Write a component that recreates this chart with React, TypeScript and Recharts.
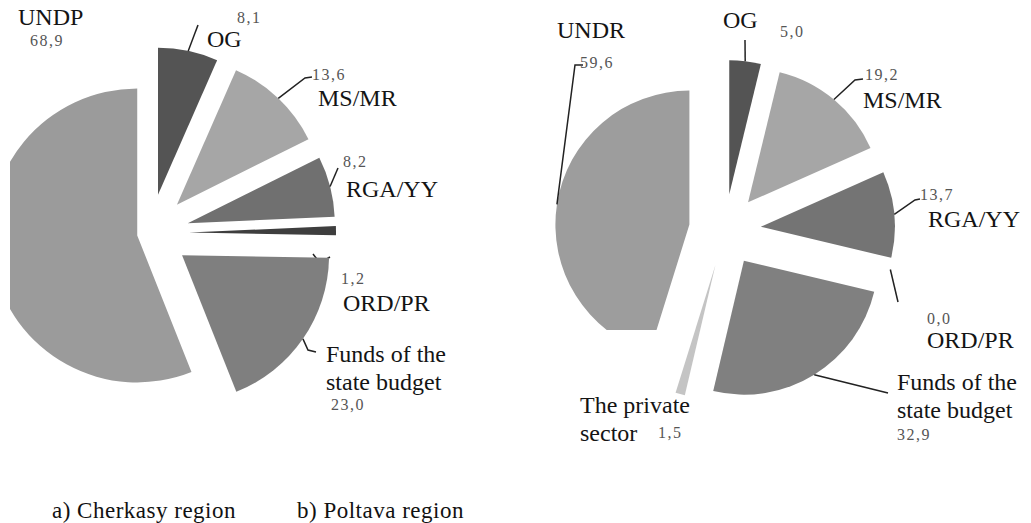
import { PieChart, Pie, Sector } from "recharts";

// a) Cherkasy region, clockwise from 12 o'clock
const CHERKASY_NAMES = ["OG", "MS/MR", "RGA/YY", "ORD/PR", "Funds of the state budget", "UNDP"];
const CHERKASY_VALUES = [8.1, 13.6, 8.2, 1.2, 23.0, 68.9];

// b) Poltava region, clockwise from 12 o'clock
const POLTAVA_NAMES = ["OG", "MS/MR", "RGA/YY", "ORD/PR", "Funds of the state budget", "The private sector", "UNDR"];
const POLTAVA_VALUES = [5.0, 19.2, 13.7, 0.0, 32.9, 1.5, 59.6];

const CAPTIONS = ["a) Cherkasy region", "b) Poltava region"];

const CHERKASY_COLORS = ["#545454", "#a6a6a6", "#707070", "#3e3e3e", "#7f7f7f", "#9b9b9b"];
const POLTAVA_COLORS = ["#545454", "#a6a6a6", "#747474", "#444444", "#808080", "#c4c4c4", "#9d9d9d"];

// how far each slice is pulled out of the pie
const CHERKASY_EXPLODE = [39, 39, 39, 39, 39, 13];
const POLTAVA_EXPLODE = [36, 36, 36, 36, 36, 36, 36];

const X0 = 10; // chart's left edge on the page
const RAD = Math.PI / 180;
const SERIF = '"Liberation Serif", "DejaVu Serif", "Noto Serif", "Times New Roman", Times, serif';

type Spot = {
	lines: string[];
	x: number;
	y: number;
	value: [number, number];
	leader?: [number, number][];
	fromArc?: boolean;
};

// label placement, page coordinates
const CHERKASY_SPOTS: Spot[] = [
	{ lines: ["OG"], x: 207, y: 47, value: [237, 23], leader: [[198, 25]] },
	{ lines: ["MS/MR"], x: 318, y: 106, value: [312, 80], leader: [[305, 78], [312, 77]] },
	{ lines: ["RGA/YY"], x: 346, y: 197, value: [343, 167], leader: [[338, 168]] },
	{ lines: ["ORD/PR"], x: 343, y: 311, value: [341, 284], leader: [[313, 254], [320, 263], [330, 257]], fromArc: false },
	{ lines: ["Funds of the", "state budget"], x: 326, y: 362, value: [331, 410], leader: [[308, 350], [316, 352]] },
	{ lines: ["UNDP"], x: 18, y: 25, value: [30, 46] },
];

const POLTAVA_SPOTS: Spot[] = [
	{ lines: ["OG"], x: 723, y: 28, value: [780, 37], leader: [[745, 40]] },
	{ lines: ["MS/MR"], x: 863, y: 108, value: [865, 80], leader: [[855, 80], [863, 79]] },
	{ lines: ["RGA/YY"], x: 928, y: 227, value: [920, 200], leader: [[915, 200], [920, 199]] },
	{ lines: ["ORD/PR"], x: 927, y: 348, value: [927, 324], leader: [[898, 302]] },
	{ lines: ["Funds of the", "state budget"], x: 897, y: 390, value: [897, 440], leader: [[888, 393]] },
	{ lines: ["The private", "sector"], x: 580, y: 413, value: [658, 438] },
	{ lines: ["UNDR"], x: 557, y: 38, value: [580, 68], leader: [[575, 65], [583, 65]] },
];

const fmt = (v: number) => v.toFixed(1).replace(".", ",");

function explodedSlice(colors: string[], explode: number[], spots: Spot[], clipIndex = -1) {
	return (props: any) => {
		const { cx, cy, midAngle, startAngle, endAngle, outerRadius, index, value } = props;
		const dx = Math.cos(-midAngle * RAD);
		const dy = Math.sin(-midAngle * RAD);
		const ox = cx + dx * explode[index];
		const oy = cy + dy * explode[index];
		const ax = ox + dx * outerRadius;
		const ay = oy + dy * outerRadius;
		const spot = spots[index];

		let pts: [number, number][] = [];
		if (spot.leader) {
			const rest = spot.leader.map(([x, y]) => [x - X0, y] as [number, number]);
			pts = spot.fromArc === false ? rest : [[ax, ay], ...rest];
		}

		return (
			<g>
				<Sector
					cx={ox}
					cy={oy}
					innerRadius={0}
					outerRadius={outerRadius}
					startAngle={startAngle}
					endAngle={endAngle}
					fill={colors[index]}
					stroke="none"
					clipPath={index === clipIndex ? "url(#undr-cut)" : undefined}
				/>
				{pts.length > 1 && (
					<polyline
						points={pts.map((p) => p.join(",")).join(" ")}
						fill="none"
						stroke="#222"
						strokeWidth={1.5}
					/>
				)}
				<text
					style={{ fontFamily: SERIF }}
					fontSize={24}
					fill="#141414"
					textAnchor="start"
				>
					{spot.lines.map((line, i) => (
						<tspan key={i} x={spot.x - X0} y={spot.y + i * 28}>
							{line}
						</tspan>
					))}
				</text>
				<text
					x={spot.value[0] - X0}
					y={spot.value[1]}
					style={{ fontFamily: SERIF }}
					fontSize={16}
					letterSpacing={1.5}
					fill="#555"
					textAnchor="start"
				>
					{fmt(value)}
				</text>
			</g>
		);
	};
}

export default function App() {
	const cherkasy = CHERKASY_NAMES.map((name, i) => ({ name, value: CHERKASY_VALUES[i] }));
	const poltava = POLTAVA_NAMES.map((name, i) => ({ name, value: POLTAVA_VALUES[i] }));

	return (
		<div style={{ position: "absolute", left: 0, top: 0, width: 1031, height: 523, background: "#fff", fontFamily: SERIF }}>
			<div style={{ position: "absolute", left: X0, top: 0, width: 1021, height: 523, overflow: "hidden" }}>
				<PieChart width={1021} height={523} margin={{ top: 0, right: 0, bottom: 0, left: 0 }}>
					<defs>
						<clipPath id="undr-cut">
							<rect x={0} y={0} width={1021} height={330} />
						</clipPath>
					</defs>
					<Pie
						data={cherkasy}
						dataKey="value"
						nameKey="name"
						cx={140}
						cy={233}
						outerRadius={147}
						startAngle={90}
						endAngle={-270}
						fill="transparent"
						stroke="none"
						labelLine={false}
						label={explodedSlice(CHERKASY_COLORS, CHERKASY_EXPLODE, CHERKASY_SPOTS)}
						isAnimationActive={false}
					/>
					<Pie
						data={poltava}
						dataKey="value"
						nameKey="name"
						cx={715}
						cy={230}
						outerRadius={134}
						startAngle={90}
						endAngle={-270}
						fill="transparent"
						stroke="none"
						labelLine={false}
						label={explodedSlice(POLTAVA_COLORS, POLTAVA_EXPLODE, POLTAVA_SPOTS, 6)}
						isAnimationActive={false}
					/>
				</PieChart>
			</div>
			{CAPTIONS.map((c, i) => (
				<div
					key={c}
					style={{
						position: "absolute",
						left: i === 0 ? 52 : 297,
						top: 499,
						fontFamily: SERIF,
						fontSize: 23,
						lineHeight: "23px",
						letterSpacing: 0.5,
						color: "#111",
						whiteSpace: "nowrap",
					}}
				>
					{c}
				</div>
			))}
		</div>
	);
}
